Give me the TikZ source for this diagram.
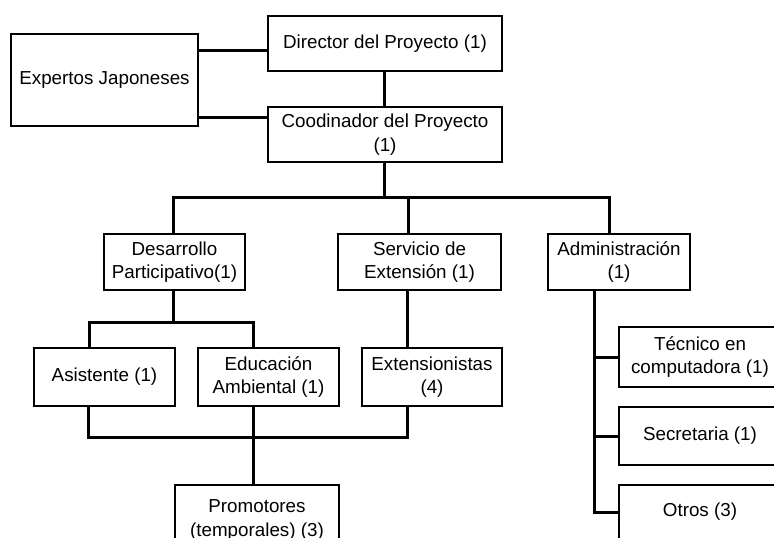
\documentclass[tikz,border=0pt]{standalone}
\usepackage{fontspec}
\setmainfont{Liberation Sans}
\usetikzlibrary{calc}
\tikzset{
	caja/.style={draw, line width=2pt, align=center, inner sep=0pt,
		font=\fontsize{18.8}{23.5}\selectfont},
	linea/.style={line width=3pt}
}

\begin{document}
\begin{tikzpicture}[x=1pt, y=-1pt]
			%%%%% START %%%%%
			\clip (0, 0) rectangle (774, 538);
			\fill[white] (0, 0) rectangle (774, 538);
			
			\node[caja, minimum width=187, minimum height=92] (exp) at (104.5, 80) {Expertos Japoneses};
			\node[caja, minimum width=234, minimum height=55] (dir) at (385, 43.5) {Director del Proyecto (1)};
			\node[caja, minimum width=234, minimum height=55] (coord) at (385, 134.5) {Coodinador del Proyecto\\(1)};
			
			\node[caja, minimum width=141, minimum height=56] (desa) at (174.5, 262) {Desarrollo\\Participativo(1)};
			\node[caja, minimum width=163, minimum height=56] (serv) at (419.5, 262) {Servicio de\\Extensión (1)};
			\node[caja, minimum width=142, minimum height=56] (admin) at (619, 262) {Administración\\(1)};
			
			\node[caja, minimum width=141, minimum height=58] (asis) at (104.5, 377) {Asistente (1)};
			\node[caja, minimum width=141, minimum height=58] (educ) at (268.5, 377) {Educación\\Ambiental (1)};
			\node[caja, minimum width=140, minimum height=58] (exten) at (432, 377) {Extensionistas\\(4)};
			\node[caja, minimum width=164, minimum height=70] (prom) at (257, 520) {Promotores\\(temporales) (3)};
			
			\node[caja, minimum width=162, minimum height=60] (tec) at (700, 357) {Técnico en\\computadora (1)};
			\node[caja, minimum width=162, minimum height=58] (secr) at (700, 436) {Secretaria (1)};
			\node[caja, minimum width=162, minimum height=54] (otros) at (700, 512) {Otros (3)};
			
			\coordinate (bus1) at (384, 197);
			\coordinate (bus2) at (173, 322);
			\coordinate (bus3) at (253, 437);
			
			\draw[linea] ([yshift=-6.5pt]dir.west) -- ([yshift=-6.5pt]dir.west -| exp.east);
			\draw[linea] ([yshift=17.5pt]coord.west) -- ([yshift=17.5pt]coord.west -| exp.east);
			\draw[linea] ([xshift=-1pt]dir.south) -- ([xshift=-1pt]coord.north);
			
			\draw[linea] ([xshift=-1pt]coord.south) -- (bus1);
			\draw[linea] ([xshift=-1.5pt]desa.north) |- (bus1) -| ([xshift=-10pt]admin.north);
			\draw[linea] ([xshift=-11.5pt]serv.north) -- ([xshift=-11.5pt]serv.north |- bus1);
			
			\draw[linea] ([xshift=-1.5pt]desa.south) -- (bus2);
			\draw[linea] ([xshift=-15.5pt]asis.north) |- (bus2) -| ([xshift=-15.5pt]educ.north);
			\draw[linea] ([xshift=-12.5pt]serv.south) -- ([xshift=-12.5pt]serv.south |- exten.north);
			
			\draw[linea] ([xshift=-16.5pt]asis.south) |- (bus3) -| ([xshift=-25pt]exten.south);
			\draw[linea] ([xshift=-15.5pt]educ.south) -- ([xshift=-4pt]prom.north);
			
			\draw[linea] ([xshift=-25pt]admin.south) |- (otros.west);
			\draw[linea] (tec.west) -- ([xshift=-25pt]admin.south |- tec.west);
			\draw[linea] (secr.west) -- ([xshift=-25pt]admin.south |- secr.west);
			%%%%% END %%%%%
\end{tikzpicture}
\end{document}
